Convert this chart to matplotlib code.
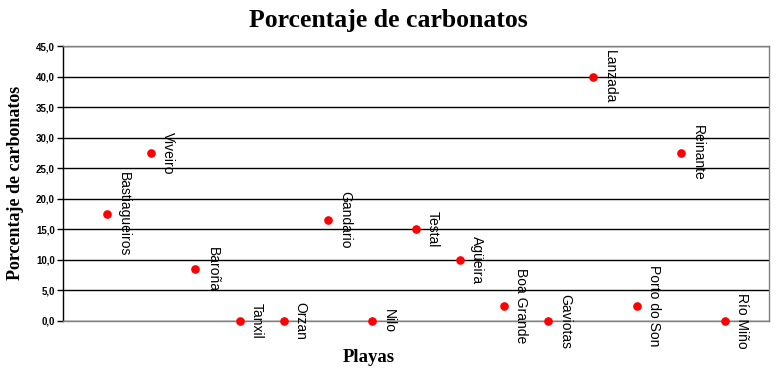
import matplotlib
matplotlib.use("Agg")
import matplotlib.pyplot as plt

playas = ["Bastiagueiros", "Viveiro", "Baroña", "Tanxil", "Orzan", "Gandario",
          "Nilo", "Testal", "Agüeira", "Boa Grande", "Gaviotas", "Lanzada",
          "Porto do Son", "Reinante", "Río Miño"]
carbonatos = [17.5, 27.5, 8.5, 0.0, 0.0, 16.5, 0.0, 15.0, 10.0, 2.5, 0.0, 40.0,
              2.5, 27.5, 0.0]
yticks = [0, 5, 10, 15, 20, 25, 30, 35, 40, 45]
ytick_labels = ["0,0", "5,0", "10,0", "15,0", "20,0", "25,0", "30,0", "35,0",
                "40,0", "45,0"]

fig = plt.figure(figsize=(7.77, 3.73), dpi=100)
ax = fig.add_axes([63/777, 1-321/373, (769-63)/777, (321-46)/373])

xs = list(range(1, len(playas) + 1))
ax.plot(xs, carbonatos, linestyle="none", marker="o", color="#ff0000",
        markersize=5.2, zorder=3, clip_on=False)

for x, y, name in zip(xs, carbonatos, playas):
    ax.annotate(name, (x, y), xytext=(10, 0), textcoords="offset pixels",
                rotation=-90, ha="left", va="center", fontsize=10,
                family="Liberation Sans", annotation_clip=False, zorder=4)

ax.set_xlim(0, 16)
ax.set_ylim(0, 45)
ax.set_yticks(yticks)
ax.set_yticklabels(ytick_labels, fontsize=7, fontweight="bold",
                   family="Liberation Sans")
ax.set_xticks([])
ax.tick_params(axis="y", direction="out", length=4, width=1, color="black", pad=2)
ax.yaxis.grid(True, color="black", linewidth=1)
ax.set_axisbelow(True)
for s in ["top", "right", "bottom"]:
    ax.spines[s].set_color("#808080")
    ax.spines[s].set_linewidth(1)
ax.spines["left"].set_color("black")
ax.spines["left"].set_linewidth(1)

fig.text(388/777, 1-20/373, "Porcentaje de carbonatos", ha="center", va="center",
         fontsize=18.5, fontweight="bold", family="Liberation Serif")
fig.text(16/777, 1-183/373, "Porcentaje de carbonatos", ha="center", va="center",
         rotation=90, fontsize=13, fontweight="bold", family="Liberation Serif")
fig.text(369/777, 1-358/373, "Playas", ha="center", va="center",
         fontsize=13.5, fontweight="bold", family="Liberation Serif")

fig.savefig("out.png", dpi=100)
